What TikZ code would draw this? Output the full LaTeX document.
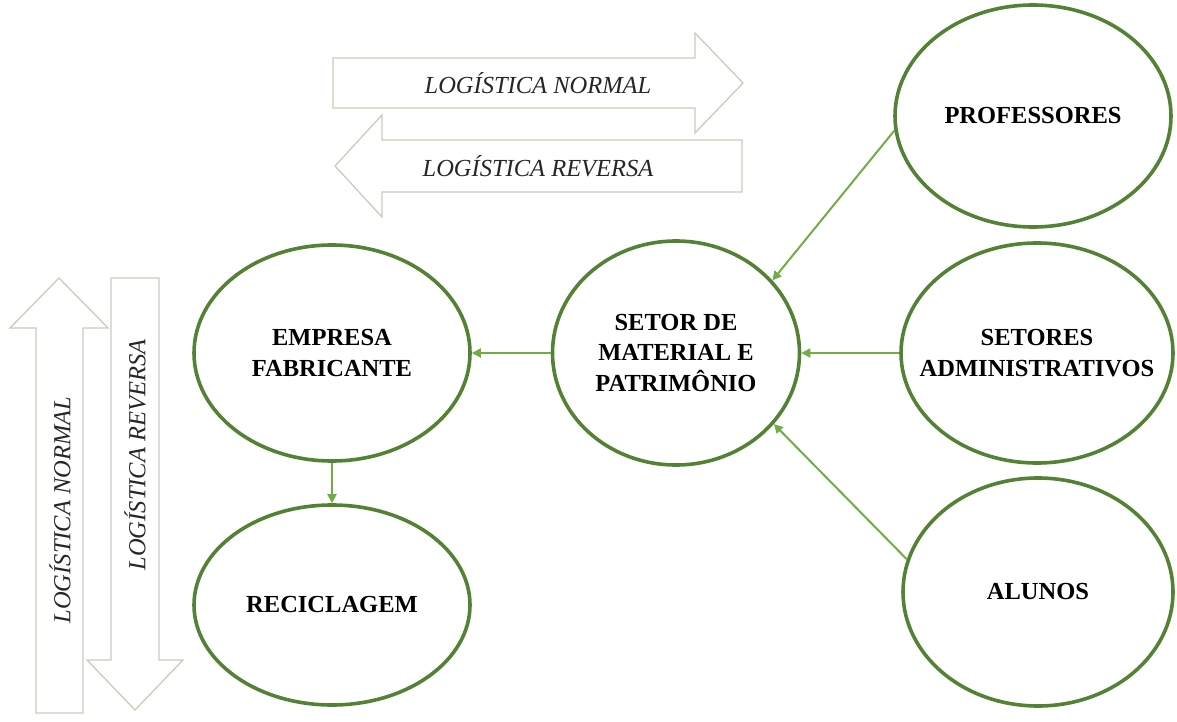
\documentclass[tikz,border=0pt]{standalone}
\usepackage{fontspec}
\setmainfont{Liberation Serif}
\usetikzlibrary{shapes.geometric,arrows.meta}
\definecolor{ringgreen}{RGB}{84,130,53}
\definecolor{linkgreen}{RGB}{112,173,71}
\definecolor{blockline}{RGB}{196,208,186}
\tikzset{
  oval/.style={ellipse, draw=ringgreen, line width=3.6pt, fill=white, inner sep=0pt},
  ovaltext/.style={align=center, inner sep=0pt, font=\fontsize{24.5}{30.5}\selectfont\bfseries},
  link/.style={draw=linkgreen, line width=2pt, -{Triangle[length=9pt,width=9pt]}},
  block/.style={draw=blockline, line width=1.3pt, fill=white},
  blocklabel/.style={font=\fontsize{24.5}{28}\selectfont\itshape, text=black!85, inner sep=0pt},
}
\begin{document}
\begin{tikzpicture}[x=1pt,y=-1pt]
\useasboundingbox (0,0) rectangle (1177,722);
% horizontal block arrows
\draw[block] (333,58) -- (695,58) -- (695,33) -- (743,83) -- (695,133) -- (695,108) -- (333,108) -- cycle;
\node[blocklabel] (hnormal) at (538,83) {LOGÍSTICA NORMAL};
\draw[block] (742,140) -- (382,140) -- (382,115) -- (335,166) -- (382,217) -- (382,192) -- (742,192) -- cycle;
\node[blocklabel] (hreversa) at (538,166) {LOGÍSTICA REVERSA};
% vertical block arrows
\draw[block] (36,713) -- (36,328) -- (10,328) -- (59,278) -- (108,328) -- (83,328) -- (83,713) -- cycle;
\draw[block] (111,278) -- (159,278) -- (159,660) -- (183,660) -- (135,710) -- (87,660) -- (111,660) -- cycle;
\node[blocklabel, rotate=90] (vnormal) at (60,510) {LOGÍSTICA NORMAL};
\node[blocklabel, rotate=90] (vreversa) at (135,455) {LOGÍSTICA REVERSA};
% ellipses
\node[oval, minimum width=276pt, minimum height=222pt] (prof) at (1033,116) {};
\node[ovaltext] (proft) at (prof.center) {PROFESSORES};
\node[oval, minimum width=272pt, minimum height=220pt] (adm) at (1037,353) {};
\node[ovaltext] (admt) at (adm.center) {SETORES\\ADMINISTRATIVOS};
\node[oval, minimum width=270pt, minimum height=228pt] (alunos) at (1038,592) {};
\node[ovaltext] (alunost) at (alunos.center) {ALUNOS};
\node[oval, minimum width=247pt, minimum height=224pt] (setor) at (676,353) {};
\node[ovaltext] (setort) at (setor.center) {SETOR DE\\MATERIAL E\\PATRIMÔNIO};
\node[oval, minimum width=276pt, minimum height=216pt] (empresa) at (332,353) {};
\node[ovaltext] (empresat) at (empresa.center) {EMPRESA\\FABRICANTE};
\node[oval, minimum width=276pt, minimum height=200pt] (recic) at (332,605) {};
\node[ovaltext] (recict) at (recic.center) {RECICLAGEM};
% connectors
\draw[link] (setor.west) -- (empresa.east);
\draw[link] (adm.west) -- (setor.east);
\draw[link] (prof.186) -- (setor.37);
\draw[link] (alunos.166) -- (setor.-36);
\draw[link] (empresa.south) -- (recic.north);
\end{tikzpicture}
\end{document}
